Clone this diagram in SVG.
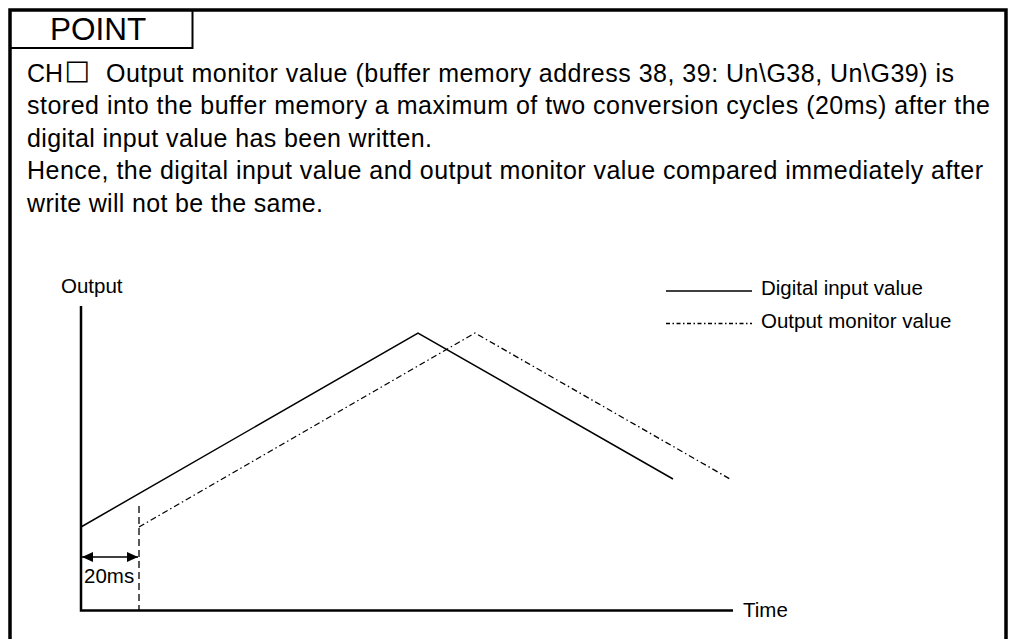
<svg xmlns="http://www.w3.org/2000/svg" width="1010" height="639" viewBox="0 0 1010 639">
<style>
text{font-family:"Liberation Sans",Arial,sans-serif;fill:#000}
.body{font-size:25px}
.lbl{font-size:20.5px}
.frame{stroke:#000;fill:none}
.solid{stroke:#000;stroke-width:1.5;fill:none}
.dd{stroke:#000;stroke-width:1.3;fill:none;stroke-dasharray:6 3 1.5 3}
</style>
<defs>
<marker id="ah" viewBox="0 0 11 10" refX="11" refY="5" markerWidth="11" markerHeight="10" markerUnits="userSpaceOnUse" orient="auto-start-reverse">
<path d="M0,0 L11,5 L0,10 Z" fill="#000"/>
</marker>
</defs>
<rect width="1010" height="639" fill="#fff"/>
<g id="frame">
<path class="frame" stroke-width="3.5" d="M10,639 V10 H1006 V639"/>
<path class="frame" stroke-width="2" d="M192.5,10 V48 H10"/>
<text x="50" y="39.5" style="font-size:31.5px">POINT</text>
</g>
<g id="note">
<text class="body" x="27" y="81.5">CH</text>
<text x="64.5" y="78.5" style="font-family:'DejaVu Sans',sans-serif;font-size:27px">□</text>
<text class="body" x="106" y="81.5" textLength="848" lengthAdjust="spacing">Output monitor value (buffer memory address 38, 39: Un\G38, Un\G39) is</text>
<text class="body" x="27" y="114" textLength="963" lengthAdjust="spacing">stored into the buffer memory a maximum of two conversion cycles (20ms) after the</text>
<text class="body" x="27" y="146.5" textLength="405" lengthAdjust="spacing">digital input value has been written.</text>
<text class="body" x="27" y="179" textLength="956" lengthAdjust="spacing">Hence, the digital input value and output monitor value compared immediately after</text>
<text class="body" x="27" y="211.5" textLength="296" lengthAdjust="spacing">write will not be the same.</text>
</g>
<g id="axes">
<path class="frame" stroke-width="2.5" d="M81,306 V610.5 H733"/>
<text class="lbl" x="61" y="293">Output</text>
<text class="lbl" x="743" y="617">Time</text>
</g>
<g id="legend">
<line class="solid" x1="666" y1="291" x2="752" y2="291"/>
<text class="lbl" x="761" y="294.5">Digital input value</text>
<line class="dd" x1="666" y1="323.5" x2="752" y2="323.5" style="stroke-dasharray:4 2.5 1.5 2.5"/>
<text class="lbl" x="761" y="328">Output monitor value</text>
</g>
<g id="connectors">
<polyline id="digital-input" class="solid" points="81,527 418,333 673,479"/>
<polyline id="output-monitor" class="dd" points="139,527 475,333 730,479"/>
<line id="delay-marker" x1="139" y1="506" x2="139" y2="610" stroke="#000" stroke-width="1.3" stroke-dasharray="7 4"/>
<line id="delay-arrow" x1="82" y1="557" x2="138" y2="557" stroke="#000" stroke-width="1.3" marker-start="url(#ah)" marker-end="url(#ah)"/>
</g>
<g id="delay-label">
<text class="lbl" x="84" y="582.5">20ms</text>
</g>
</svg>
